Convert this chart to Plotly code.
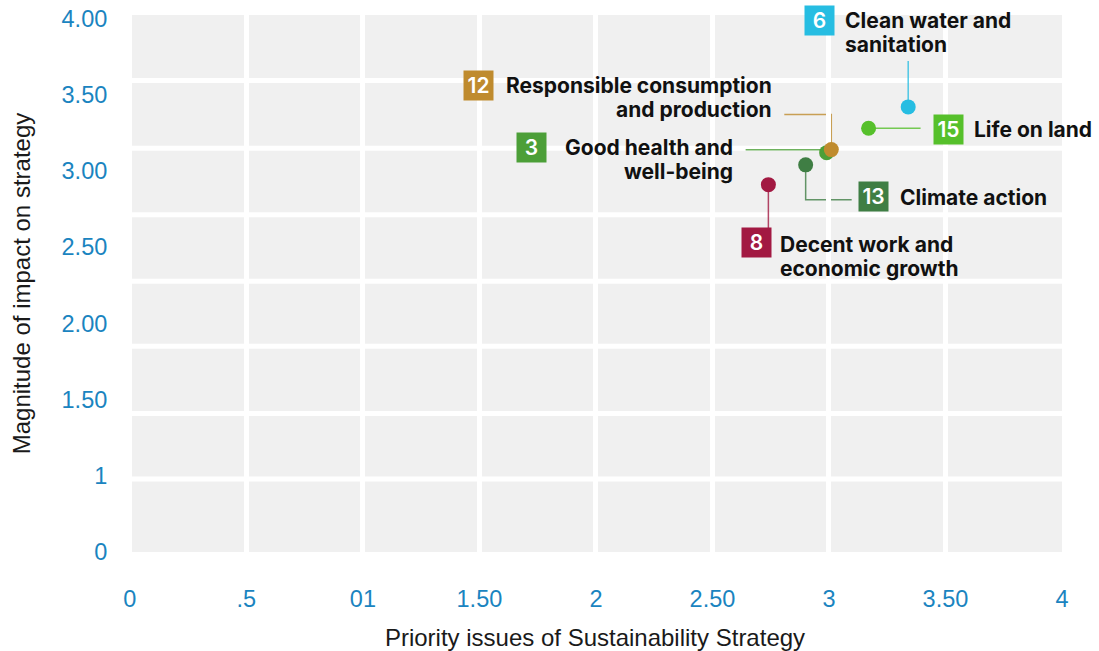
import plotly.graph_objects as go

# SDG goals plotted on the materiality grid
goal_numbers = ["8", "13", "3", "12", "15", "6"]
goal_labels = [
    ["Decent work and", "economic growth"],
    ["Climate action"],
    ["Good health and", "well-being"],
    ["Responsible consumption", "and production"],
    ["Life on land"],
    ["Clean water and", "sanitation"],
]
priority = [2.74, 2.90, 2.99, 3.01, 3.17, 3.34]      # x: priority issues
impact = [2.91, 3.04, 3.12, 3.14, 3.28, 3.42]        # y: magnitude of impact

x_tickvals = [0, 0.5, 1, 1.5, 2, 2.5, 3, 3.5, 4]
x_ticktext = ["0", ".5", "01", "1.50", "2", "2.50", "3", "3.50", "4"]
y_tickvals = [0.5, 1, 1.5, 2, 2.5, 3, 3.5, 4]
y_ticktext = ["0", "1", "1.50", "2.00", "2.50", "3.00", "3.50", "4.00"]

sdg_colors = {
    "3": "#4C9F38", "6": "#26BDE2", "8": "#A21942",
    "12": "#BF8B2E", "13": "#3F7E44", "15": "#56C02B",
}

# label layout per goal, in screen pixels relative to the marker:
# box offset, text anchor side / offset, first line offset, leader path
label_style = {
    "6":  dict(box=(-89, 86), side="left", tx=-65, ty=86, lead="M0,0 V46"),
    "15": dict(box=(80, -1), side="left", tx=103, ty=-1, lead="M0,0 H52"),
    "12": dict(box=(-353, 64), side="right", tx=-57, ty=64, lead="M0,0 V35 H-47"),
    "3":  dict(box=(-295, 5), side="right", tx=-92, ty=5, lead="M0,3 H-81"),
    "13": dict(box=(68, -32), side="left", tx=92, ty=-33, lead="M0,0 V-35 H46"),
    "8":  dict(box=(-12, -58), side="left", tx=10, ty=-60, lead="M0,0 V-44"),
}
LINE_GAP = 24

tick_blue = "#1a84c0"
axis_font = "Liberation Sans, Arial, Helvetica, sans-serif"
label_font = "Inter, Lato, sans-serif"

fig = go.Figure()

fig.add_trace(go.Scatter(
    x=priority, y=impact, mode="markers",
    marker=dict(size=15, color=[sdg_colors[g] for g in goal_numbers], line=dict(width=0)),
    hoverinfo="skip", showlegend=False,
))

shapes = []
# white separators between the grid rows
for f in [0.136, 0.258, 0.383, 0.504, 0.628, 0.752, 0.878]:
    shapes.append(dict(type="line", xref="x domain", yref="y domain",
                       x0=0, x1=1, y0=f, y1=f, layer="below",
                       line=dict(color="white", width=5)))

annotations = []
for g, lines, xv, yv in zip(goal_numbers, goal_labels, priority, impact):
    st = label_style[g]
    col = sdg_colors[g]
    shapes.append(dict(type="path", xref="x", yref="y",
                       xsizemode="pixel", ysizemode="pixel",
                       xanchor=xv, yanchor=yv, path=st["lead"], layer="below",
                       line=dict(color=col, width=1.5), opacity=0.8))
    bx, by = st["box"]
    annotations.append(dict(
        x=xv, y=yv, xref="x", yref="y", xshift=bx, yshift=by,
        text=g, showarrow=False, width=29, height=29,
        bgcolor=col, borderpad=0, xanchor="center", yanchor="middle",
        font=dict(family=label_font, size=21, color="white", weight=600),
    ))
    for i, line in enumerate(lines):
        annotations.append(dict(
            x=xv, y=yv, xref="x", yref="y",
            xshift=st["tx"], yshift=st["ty"] - i * LINE_GAP,
            text=line, showarrow=False,
            xanchor=st["side"], yanchor="middle", align=st["side"],
            font=dict(family=label_font, size=21, color="#111111", weight=700),
        ))

fig.update_layout(
    width=1099, height=651,
    margin=dict(l=128, r=37, t=15, b=99),
    paper_bgcolor="white", plot_bgcolor="#f0f0f0",
    shapes=shapes, annotations=annotations,
    xaxis=dict(
        range=[-0.008, 4.0], tickvals=x_tickvals, ticktext=x_ticktext,
        showgrid=True, gridcolor="white", gridwidth=5, zeroline=False,
        showline=False, ticks="outside", ticklen=0, ticklabelstandoff=26,
        tickfont=dict(family=axis_font, size=23.5, color=tick_blue),
        title=dict(text="Priority issues of Sustainability Strategy", standoff=18,
                   font=dict(family=axis_font, size=24, color="#1a1a1a")),
        automargin=False, fixedrange=True,
    ),
    yaxis=dict(
        range=[0.5, 4.023], tickvals=y_tickvals, ticktext=y_ticktext,
        showgrid=False, zeroline=False, showline=False,
        ticks="outside", ticklen=0, ticklabelstandoff=15,
        tickfont=dict(family=axis_font, size=23.5, color=tick_blue),
        title=dict(text="Magnitude of impact on strategy", standoff=24,
                   font=dict(family=axis_font, size=24, color="#1a1a1a")),
        automargin=False, fixedrange=True,
    ),
)

fig.write_html("out.html")
